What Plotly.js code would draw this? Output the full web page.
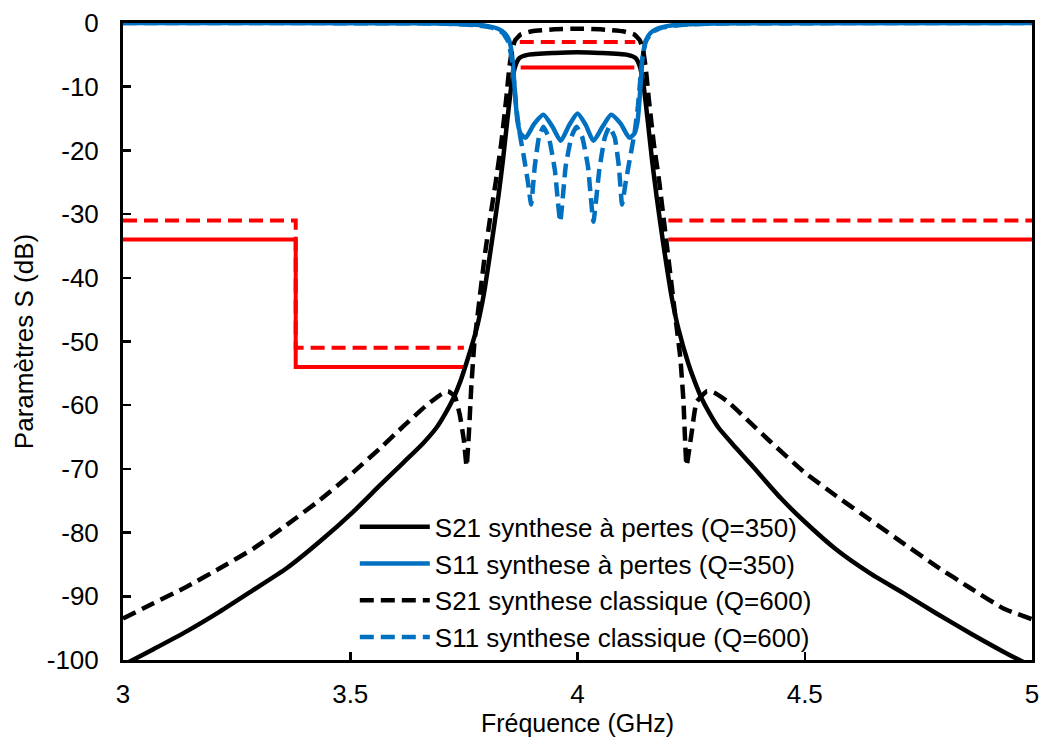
<!DOCTYPE html>
<html>
<head>
<meta charset="utf-8">
<script src="https://cdn.plot.ly/plotly-3.0.1.min.js"></script>
<style>html,body{margin:0;padding:0;background:#fff;}#chart{width:1042px;height:740px;}</style>
</head>
<body>
<div id="chart"></div>
<script>
// ---- Data ----
const freqS21Lossy = [3.000,3.067,3.140,3.213,3.287,3.360,3.433,3.507,3.565,3.617,3.660,3.690,3.710,3.727,3.742,3.756,3.778,3.788,3.796,3.811,3.826,3.836,3.846,3.855,3.863,3.872,3.890,3.950,4.000,4.050,4.110,4.128,4.137,4.145,4.154,4.164,4.174,4.189,4.204,4.212,4.222,4.244,4.258,4.273,4.290,4.310,4.340,4.383,4.446,4.497,4.570,4.644,4.717,4.790,4.864,4.937,5.000];
const s21Lossy     = [-100.8,-98.3,-95.5,-92.4,-89.0,-85.6,-81.4,-76.7,-72.6,-69.0,-66.0,-63.5,-61.2,-58.9,-56.3,-53.3,-48.0,-44.8,-41.7,-34.6,-27.2,-21.5,-15.0,-9.6,-6.8,-5.5,-5.0,-4.7,-4.6,-4.7,-5.0,-5.5,-6.8,-9.6,-15.0,-21.5,-27.2,-34.8,-41.7,-44.8,-48.0,-53.5,-56.3,-58.9,-61.2,-63.5,-66.0,-69.4,-74.5,-78.1,-82.7,-86.4,-89.5,-92.7,-95.8,-98.7,-101.0];

const freqS11Lossy = [3.000,3.600,3.700,3.760,3.800,3.825,3.840,3.850,3.856,3.860,3.864,3.868,3.875,3.886,3.905,3.925,3.945,3.963,3.982,4.000,4.018,4.035,4.055,4.074,4.095,4.114,4.125,4.132,4.136,4.140,4.144,4.150,4.160,4.175,4.200,4.240,4.300,4.400,5.000];
const s11Lossy     = [0,-0.02,-0.06,-0.2,-0.45,-0.9,-1.6,-2.8,-5.0,-8.5,-12.5,-15.5,-17.4,-18.0,-15.8,-14.4,-16.3,-18.5,-16.0,-14.2,-16.0,-18.5,-16.3,-14.4,-15.8,-18.0,-17.4,-15.5,-12.5,-8.5,-5.0,-2.8,-1.6,-0.9,-0.45,-0.2,-0.06,-0.02,0];

const freqS21Classic = [3.000,3.067,3.140,3.213,3.287,3.360,3.433,3.507,3.565,3.617,3.668,3.700,3.715,3.730,3.741,3.750,3.756,3.761,3.766,3.773,3.785,3.796,3.808,3.820,3.832,3.843,3.850,3.856,3.863,3.875,3.900,3.950,4.000,4.050,4.100,4.125,4.137,4.144,4.150,4.157,4.168,4.180,4.190,4.204,4.218,4.226,4.233,4.240,4.251,4.262,4.285,4.300,4.330,4.372,4.424,4.497,4.570,4.644,4.717,4.790,4.864,4.937,5.000];
const s21Classic     = [-93.5,-91.1,-88.5,-85.6,-82.5,-78.8,-74.9,-70.5,-66.8,-63.3,-60.0,-58.3,-57.8,-58.6,-61.5,-65.5,-69.6,-64.5,-57.5,-50.3,-43.0,-36.5,-30.5,-25.0,-19.0,-12.0,-7.0,-4.2,-2.7,-1.8,-1.3,-1.0,-0.9,-1.0,-1.3,-1.8,-2.7,-4.2,-7.0,-12.0,-19.0,-25.0,-31.0,-39.3,-47.7,-52.4,-59.2,-69.5,-64.4,-59.5,-57.8,-58.0,-59.4,-62.2,-65.7,-70.4,-74.3,-78.0,-81.7,-85.3,-88.7,-91.9,-93.6];

const freqS11Classic = [3.000,3.700,3.770,3.810,3.835,3.848,3.855,3.860,3.865,3.872,3.882,3.891,3.898,3.906,3.915,3.925,3.937,3.950,3.962,3.974,3.987,3.998,4.010,4.023,4.035,4.048,4.060,4.070,4.082,4.091,4.098,4.106,4.116,4.126,4.133,4.138,4.143,4.150,4.163,4.188,4.228,4.300,5.000];
const s11Classic     = [0,-0.08,-0.3,-0.7,-1.5,-3.0,-5.5,-9.0,-13.0,-17.0,-21.0,-25.0,-28.5,-22.5,-18.0,-16.3,-18.0,-23.0,-31.2,-22.5,-17.8,-16.3,-17.8,-22.5,-31.2,-23.0,-18.0,-16.3,-18.0,-22.5,-28.5,-25.0,-21.0,-17.0,-13.0,-9.0,-5.5,-3.0,-1.5,-0.7,-0.3,-0.08,0];

// Specification templates (red)
const maskLossyX   = [3, 3.38, 3.38, 3.75, null, 3.875, 4.125, null, 4.2, 5];
const maskLossyY   = [-34, -34, -54, -54, null, -7, -7, null, -34, -34];
const maskClassicX = [3, 3.38, 3.38, 3.75, null, 3.873, 4.127, null, 4.2, 5];
const maskClassicY = [-31, -31, -51, -51, null, -3, -3, null, -31, -31];

const legendNames = [
  'S21 synthese à pertes (Q=350)',
  'S11 synthese à pertes (Q=350)',
  'S21 synthese classique (Q=600)',
  'S11 synthese classique (Q=600)'
];
const xTickVals = [3, 3.5, 4, 4.5, 5];
const xTickText = ['3', '3.5', '4', '4.5', '5'];
const yTickVals = [0, -10, -20, -30, -40, -50, -60, -70, -80, -90, -100];
const yTickText = ['0', '-10', '-20', '-30', '-40', '-50', '-60', '-70', '-80', '-90', '-100'];

// ---- Chart ----
const BLACK = '#000000', BLUE = '#0070C0', RED = '#FF0000';
const DASH = '14px,7px';

const traces = [
  {x: maskLossyX, y: maskLossyY, mode: 'lines', line: {color: RED, width: 4}, showlegend: false, hoverinfo: 'skip', connectgaps: false},
  {x: maskClassicX, y: maskClassicY, mode: 'lines', line: {color: RED, width: 4, dash: DASH}, showlegend: false, hoverinfo: 'skip', connectgaps: false},
  {x: freqS21Lossy, y: s21Lossy, name: legendNames[0], mode: 'lines', line: {color: BLACK, width: 4.5, shape: 'spline', smoothing: 0.6}, legendgroup: 'a'},
  {x: freqS11Lossy, y: s11Lossy, name: legendNames[1], mode: 'lines', line: {color: BLUE, width: 4.5, shape: 'spline', smoothing: 0.6}, legendgroup: 'b'},
  {x: freqS21Classic, y: s21Classic, name: legendNames[2], mode: 'lines', line: {color: BLACK, width: 4.5, dash: DASH, shape: 'spline', smoothing: 0.4}, legendgroup: 'c'},
  {x: freqS11Classic, y: s11Classic, name: legendNames[3], mode: 'lines', line: {color: BLUE, width: 4.5, dash: DASH, shape: 'spline', smoothing: 0.4}, legendgroup: 'd'}
];

const FONT = 'Liberation Sans, Arial, sans-serif';
const FS = 26;
const layout = {
  width: 1042, height: 740,
  margin: {l: 123, r: 10, t: 23, b: 80, pad: 0},
  paper_bgcolor: '#ffffff', plot_bgcolor: '#ffffff',
  font: {family: FONT, size: FS, color: '#000000'},
  showlegend: true,
  legend: {
    x: 0.255, y: 0.246, xanchor: 'left', yanchor: 'top',
    bgcolor: 'rgba(0,0,0,0)', borderwidth: 0,
    font: {family: FONT, size: FS, color: '#000000'},
    itemwidth: 70, traceorder: 'grouped', tracegroupgap: 0
  },
  xaxis: {
    range: [3, 5], tickmode: 'array', tickvals: xTickVals, ticktext: xTickText,
    ticks: 'inside', ticklen: 8, tickwidth: 2.5, tickcolor: '#000',
    showline: true, linecolor: '#000', linewidth: 3, mirror: true,
    showgrid: false, zeroline: false, layer: 'below traces',
    tickfont: {family: FONT, size: FS, color: '#000'}, ticklabelstandoff: 9,
    title: {text: 'Fréquence (GHz)', font: {family: FONT, size: 25, color: '#000'}, standoff: 3}
  },
  yaxis: {
    range: [-100, 0], tickmode: 'array', tickvals: yTickVals, ticktext: yTickText,
    ticks: 'inside', ticklen: 8, tickwidth: 2.5, tickcolor: '#000',
    showline: true, linecolor: '#000', linewidth: 3, mirror: true,
    showgrid: false, zeroline: false, layer: 'below traces',
    tickfont: {family: FONT, size: FS, color: '#000'}, ticklabelstandoff: 16,
    title: {text: 'Paramètres S (dB)', font: {family: FONT, size: FS, color: '#000'}, standoff: 6}
  }
};

Plotly.newPlot('chart', traces, layout, {displayModeBar: false, staticPlot: true});
</script>
</body>
</html>
